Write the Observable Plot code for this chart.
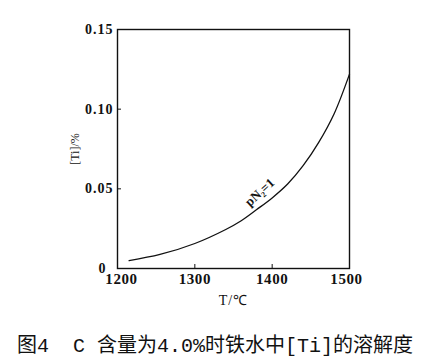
<!DOCTYPE html>
<html>
<head>
<meta charset="utf-8">
<script src="https://cdn.jsdelivr.net/npm/d3@7"></script>
<script src="https://cdn.jsdelivr.net/npm/@observablehq/plot@0.6"></script>
<style>
  html, body { margin: 0; padding: 0; background: #fff; }
  #chart { width: 435px; }
  #caption {
    height: 34px;
    line-height: 38px;
    margin-left: 17px;
    font-family: "Liberation Mono", "Noto Sans CJK SC", monospace;
    font-size: 20px;
    color: #111;
    white-space: pre;
  }
  #chart svg g[aria-label="x-axis tick label"] text { letter-spacing: 0.6px; }
  #chart svg g[aria-label="y-axis tick label"] text { letter-spacing: 1px; }
  #chart svg g[aria-label="x-axis label"] text { letter-spacing: 1px; }
</style>
</head>
<body>
<div id="chart"></div>
<div id="caption"></div>
<script>
// Data
const temperature = [1215, 1255, 1300, 1340, 1360, 1380, 1400, 1420, 1440, 1460, 1480, 1500];
const tiPercent   = [0.005, 0.0088, 0.0157, 0.0245, 0.030, 0.037, 0.0443, 0.053, 0.0645, 0.079, 0.097, 0.122];
const xTicks = [1200, 1300, 1400, 1500];
const yTicks = [0, 0.05, 0.10, 0.15];
const curveLabel = [{T: 1384, v: 0.0478, text: "pN₂=1"}];
const xLabel = "T/℃";
const yLabel = "[Ti]/%";
const captionText = "图4  C 含量为4.0%时铁水中[Ti]的溶解度";

const data = temperature.map((t, i) => ({T: t, v: tiPercent[i]}));
const fmtY = d => d === 0 ? "0" : d.toFixed(2);

const xTickStyle = {tickSize: -4, tickPadding: 9, tickFormat: d => String(d), label: null, fontSize: 15, fontWeight: "bold"};
const yTickStyle = {tickSize: -4, tickPadding: 8, tickFormat: fmtY, label: null, fontSize: 14, fontWeight: "bold"};

const chart = Plot.plot({
  width: 435,
  height: 328,
  marginLeft: 117,
  marginRight: 86,
  marginTop: 29,
  marginBottom: 60,
  style: {fontFamily: "Liberation Serif, serif", fontSize: "14px", color: "#111", background: "#fff"},
  x: {domain: [xTicks[0], xTicks[xTicks.length - 1]]},
  y: {domain: [yTicks[0], yTicks[yTicks.length - 1]]},
  marks: [
    Plot.frame({stroke: "#111", strokeWidth: 1.4}),
    // first x tick label sits a little right of the corner, as in the scan
    Plot.axisX({...xTickStyle, ticks: xTicks.slice(0, 1), tickSize: 0, tickPadding: 5, dx: 4}),
    Plot.axisX({...xTickStyle, ticks: xTicks.slice(1, 3)}),
    Plot.axisX({...xTickStyle, ticks: xTicks.slice(3), tickSize: 0, tickPadding: 5, dx: -3}),
    Plot.axisX({
      ticks: [], tickSize: 0,
      label: xLabel, labelAnchor: "center", labelArrow: "none", labelOffset: 36,
      fontSize: 14
    }),
    // the "0" label sits a little left of the others, as in the scan
    Plot.axisY({...yTickStyle, ticks: yTicks.slice(0, 1), tickSize: 0, tickPadding: 4, dx: -7}),
    Plot.axisY({...yTickStyle, ticks: yTicks.slice(1)}),
    Plot.axisY({
      ticks: [], tickSize: 0,
      label: yLabel, labelAnchor: "center", labelArrow: "none", labelOffset: 47,
      fontSize: 12
    }),
    Plot.line(data, {x: "T", y: "v", curve: "catmull-rom", stroke: "#111", strokeWidth: 1.3}),
    Plot.text(curveLabel, {x: "T", y: "v", text: "text", rotate: -42, fontSize: 13, fontWeight: "bold", fill: "#111"})
  ]
});
document.getElementById("chart").appendChild(chart);
document.getElementById("caption").textContent = captionText;
</script>
</body>
</html>
